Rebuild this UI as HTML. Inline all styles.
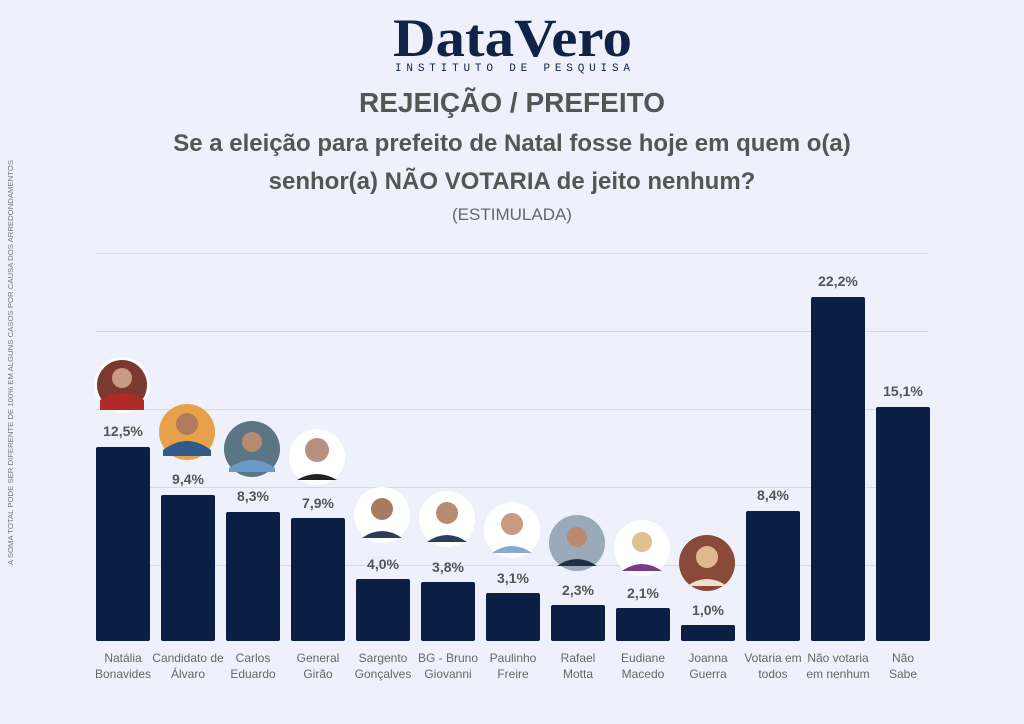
<!DOCTYPE html>
<html><head><meta charset="utf-8"><style>
html,body{margin:0;padding:0;background:#eef0fb;}
svg{display:block;}
</style></head><body>
<svg width="1024" height="724" viewBox="0 0 1024 724" xmlns="http://www.w3.org/2000/svg" font-family="Liberation Sans, sans-serif">
<rect width="1024" height="724" fill="#eef0fb"/>
<text x="393" y="56" font-family="Liberation Serif, serif" font-weight="bold" font-size="54" fill="#0f2347" textLength="239" lengthAdjust="spacingAndGlyphs">DataVero</text>
<text x="395" y="71" font-family="Liberation Mono, monospace" font-size="11" fill="#0f2347" textLength="235" lengthAdjust="spacing">INSTITUTO DE PESQUISA</text>
<text x="512" y="112" text-anchor="middle" font-weight="bold" font-size="28" fill="#555">REJEIÇÃO / PREFEITO</text>
<text x="512" y="151" text-anchor="middle" font-weight="bold" font-size="24" fill="#555">Se a eleição para prefeito de Natal fosse hoje em quem o(a)</text>
<text x="512" y="189" text-anchor="middle" font-weight="bold" font-size="24" fill="#555">senhor(a) NÃO VOTARIA de jeito nenhum?</text>
<text x="512" y="220" text-anchor="middle" font-size="17" fill="#666">(ESTIMULADA)</text>
<text transform="translate(13,565) rotate(-90)" font-size="7" fill="#777" textLength="405" lengthAdjust="spacingAndGlyphs">A SOMA TOTAL PODE SER DIFERENTE DE 100% EM ALGUNS CASOS POR CAUSA DOS ARREDONDAMENTOS</text>
<g stroke="#d6d9ea" stroke-width="1">
<line x1="96" x2="928" y1="253.5" y2="253.5"/>
<line x1="96" x2="928" y1="331.5" y2="331.5"/>
<line x1="96" x2="928" y1="409.5" y2="409.5"/>
<line x1="96" x2="928" y1="487.5" y2="487.5"/>
<line x1="96" x2="928" y1="565.5" y2="565.5"/>
</g>
<g fill="#0b1f45">
<rect x="96" y="447" width="54" height="194" rx="2"/>
<rect x="161" y="495" width="54" height="146" rx="2"/>
<rect x="226" y="512" width="54" height="129" rx="2"/>
<rect x="291" y="518" width="54" height="123" rx="2"/>
<rect x="356" y="579" width="54" height="62" rx="2"/>
<rect x="421" y="582" width="54" height="59" rx="2"/>
<rect x="486" y="593" width="54" height="48" rx="2"/>
<rect x="551" y="605" width="54" height="36" rx="2"/>
<rect x="616" y="608" width="54" height="33" rx="2"/>
<rect x="681" y="625" width="54" height="16" rx="2"/>
<rect x="746" y="511" width="54" height="130" rx="2"/>
<rect x="811" y="297" width="54" height="344" rx="2"/>
<rect x="876" y="407" width="54" height="234" rx="2"/>
</g>
<g font-weight="bold" font-size="14" fill="#555" text-anchor="middle">
<text x="123" y="436">12,5%</text>
<text x="188" y="484">9,4%</text>
<text x="253" y="501">8,3%</text>
<text x="318" y="508">7,9%</text>
<text x="383" y="569">4,0%</text>
<text x="448" y="572">3,8%</text>
<text x="513" y="583">3,1%</text>
<text x="578" y="595">2,3%</text>
<text x="643" y="598">2,1%</text>
<text x="708" y="615">1,0%</text>
<text x="773" y="500">8,4%</text>
<text x="838" y="286">22,2%</text>
<text x="903" y="396">15,1%</text>
</g>
<g>
<circle cx="122" cy="385" r="28" fill="#fff"/><circle cx="122" cy="385" r="25" fill="#7a3a30"/><circle cx="122" cy="378" r="10" fill="#c89a80"/><path d="M100,400 q22,-14 44,0 v10 h-44z" fill="#b02a2a"/>
<circle cx="187" cy="432" r="28" fill="#e8a04a"/><circle cx="187" cy="424" r="11" fill="#b07a60"/><path d="M163,450 q24,-18 48,0 v6 h-48z" fill="#2f5a8a"/>
<circle cx="252" cy="449" r="28" fill="#5b7585"/><circle cx="252" cy="442" r="10" fill="#b88a70"/><path d="M229,468 q23,-16 46,0 v4 h-46z" fill="#6a9ac8"/>
<circle cx="317" cy="457" r="28" fill="#fff"/><circle cx="317" cy="450" r="12" fill="#b89080"/><path d="M297,480 q20,-12 40,0z" fill="#222"/>
<circle cx="382" cy="515" r="28" fill="#fff"/><circle cx="382" cy="509" r="11" fill="#a87a62"/><path d="M362,538 q20,-14 40,0z" fill="#2b3f5a"/>
<circle cx="447" cy="519" r="28" fill="#fff"/><circle cx="447" cy="513" r="11" fill="#b88a70"/><path d="M427,542 q20,-14 40,0z" fill="#2b3f5a"/>
<circle cx="512" cy="530" r="28" fill="#fff"/><circle cx="512" cy="524" r="11" fill="#c89a80"/><path d="M492,553 q20,-14 40,0z" fill="#8aa8c8"/>
<circle cx="577" cy="543" r="28" fill="#9aaab8"/><circle cx="577" cy="537" r="10" fill="#b88a70"/><path d="M557,566 q20,-14 40,0z" fill="#1f2f4a"/>
<circle cx="642" cy="548" r="28" fill="#fff"/><circle cx="642" cy="542" r="10" fill="#e0c090"/><path d="M622,571 q20,-14 40,0z" fill="#7a3a8a"/>
<circle cx="707" cy="563" r="28" fill="#8a4a3a"/><circle cx="707" cy="557" r="11" fill="#e0b890"/><path d="M687,586 q20,-14 40,0z" fill="#f0e0d0"/>
</g>
<g font-size="12" fill="#666" text-anchor="middle">
<text x="123" y="662">Natália</text><text x="123" y="678">Bonavides</text>
<text x="188" y="662">Candidato de</text><text x="188" y="678">Álvaro</text>
<text x="253" y="662">Carlos</text><text x="253" y="678">Eduardo</text>
<text x="318" y="662">General</text><text x="318" y="678">Girão</text>
<text x="383" y="662">Sargento</text><text x="383" y="678">Gonçalves</text>
<text x="448" y="662">BG - Bruno</text><text x="448" y="678">Giovanni</text>
<text x="513" y="662">Paulinho</text><text x="513" y="678">Freire</text>
<text x="578" y="662">Rafael</text><text x="578" y="678">Motta</text>
<text x="643" y="662">Eudiane</text><text x="643" y="678">Macedo</text>
<text x="708" y="662">Joanna</text><text x="708" y="678">Guerra</text>
<text x="773" y="662">Votaria em</text><text x="773" y="678">todos</text>
<text x="838" y="662">Não votaria</text><text x="838" y="678">em nenhum</text>
<text x="903" y="662">Não</text><text x="903" y="678">Sabe</text>
</g>
</svg>
</body></html>
